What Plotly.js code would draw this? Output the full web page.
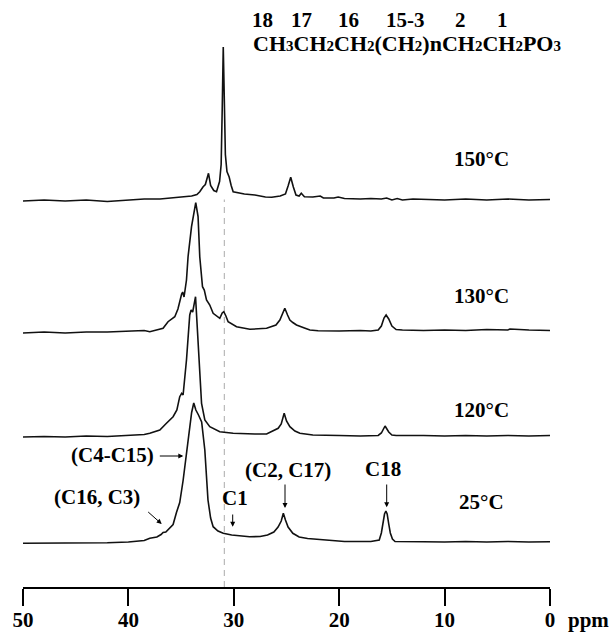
<!DOCTYPE html>
<html><head><meta charset="utf-8">
<script src="https://cdn.plot.ly/plotly-3.0.1.min.js"></script>
<style>html,body{margin:0;padding:0;background:#fff}#chart{width:610px;height:633px}</style>
</head><body><div id="chart"></div>
<script>
// ---- data (chemical shift in ppm, intensity above each spectrum's baseline) ----
const ppm150 = [50,48,46,44,42,40,38.5,37,35.5,34.5,34,33.5,33.23,32.91,32.7,32.4,32.2,31.9,31.64,31.35,31.2,31.1,31.0,30.9,30.8,30.65,30.44,30.25,30.06,29.0,28.0,27.0,26.4,25.6,25.1,24.85,24.6,24.35,24.1,23.8,23.6,23.3,22.5,21.8,21.5,20.5,20.1,19.5,18,17,16,15.5,15,14.5,14,13,12,10,8,6,4,2,0];
const int150 = [-1.5,-0.5,-1.5,-0.5,-2,-0.5,0.5,0.5,2,2.5,3.5,5,7.8,12.8,15,26.2,14,9,7.8,18,35,90,152.5,100,45,28,22.5,14,7.8,5.5,4.5,2.5,2.2,3.5,5.5,13.5,22.2,12.5,4.5,3.5,6.2,2.8,2.5,3.5,1.5,1.5,2.5,1,0.5,1,0.5,1.5,-0.5,1,-0.5,0.5,0,-0.5,0.5,-0.5,0.5,-0.5,0];

const ppm130 = [50,48,46,44,42,40,38.5,37.97,37.3,36.71,36.24,35.6,35.3,35.13,34.95,34.85,34.72,34.49,34.34,34.01,33.8,33.61,33.39,33.23,32.97,32.8,32.59,32.28,31.96,31.33,31.1,30.95,30.75,30.54,29.74,28.48,26.89,26.0,25.63,25.4,25.16,24.9,24.68,24.4,24.05,23.3,22.78,22,20,18,17,16.3,16.0,15.75,15.55,15.3,15.0,14.6,14,12,10,8,6,4,3.8,2,0];
const int130 = [-2,-1,-2,-1,-1,0,0.5,-0.7,1,2.7,9.3,14.3,22,30,37,39,34,51,74.3,104.3,119,128.3,114.3,74.3,44.3,41,31,26,17.7,12.7,18,19.3,15,9.3,4.3,1.7,2.7,6,11,17,22.7,16,11,8.5,6,3,1,0.3,0,0.5,0,1,5,13,16,12,5,1.5,1,0.5,1,0.5,1.5,1,2,1,0.5];

const ppm120 = [50,48,46,44,42,40,38.5,37.97,37.02,36.39,35.76,35.4,35.13,34.95,34.81,34.49,34.18,34.05,33.9,33.63,33.39,33.06,32.75,32.28,31.33,30.06,28,26.89,25.79,25.5,25.22,25.0,24.68,24.2,23.73,22.5,20,18,16.3,16.0,15.65,15.3,15.0,14.6,12,10,8,6,4,2,0];
const int120 = [-1,-0.5,-1,0,-0.5,0.5,1.5,2.7,6,12.7,19.3,26,39.3,42.7,41,76,121,126,124,139.3,89.3,32.7,16,9.3,4.3,2.7,2,2,7.7,12,22.7,15,9.3,5,2.7,1,0.5,0,0.5,3,10,4,1,0.5,0.5,0,0.5,0,0.5,0,0.5];

const ppm25 = [50,47,45,42,40,38.5,37.97,37.3,36.9,36.71,36.45,36.1,35.76,35.44,35.13,34.81,34.49,34.2,34.0,33.8,33.6,33.35,33.05,32.75,32.45,32.2,31.96,31.5,31.0,30.2,29.5,28.5,27.5,26.8,26.2,25.8,25.5,25.3,25.1,24.85,24.4,23.8,23,22.1,21,19.5,17,16.2,16.0,15.85,15.7,15.57,15.45,15.3,15.15,14.95,14.7,12,10,8,6,4,2,0];
const int25 = [-0.8,-0.5,-0.8,-0.3,0.5,2,4.2,5.5,8,10,10.5,14,18,30,40,62,88,115,130,139.5,132.5,127.5,120.5,92.5,42.5,24.5,15.8,11.5,9.2,7.5,6.5,5.8,6,7.5,10.5,15.5,21.5,29.2,22.5,15.5,9.2,5.5,4,3.2,2,1,1,2.5,9.5,18.5,28.5,31.5,28.5,18.5,9.5,3.5,1,0.8,0.5,1,0.5,1,0.5,0.8];

const temps = ['150°C','130°C','120°C','25°C'];
const offsets = [387.5, 256, 151, 44.5];   // vertical stacking offsets
const tickVals = [50,40,30,20,10,0];
const tickLabels = ['50','40','30','20','10','0'];
const refShift = 30.9;                      // dashed reference line (ppm)
const carbonNumbers = ['18','17','16','15-3','2','1'];

// ---- geometry helpers (pixel -> paper) ----
const L = 23, R = 60, T = 40, B = 46, PW = 610 - L - R, PH = 633 - T - B;
const pxX = px => (px - L) / PW;
const pyY = py => (633 - B - py) / PH;

const spectra = [[ppm150,int150],[ppm130,int130],[ppm120,int120],[ppm25,int25]];
const traces = spectra.map((s,i) => ({
  x: s[0], y: s[1].map(v => v + offsets[i]),
  type: 'scatter', mode: 'lines', name: temps[i],
  line: {color: '#111', width: 1.6}, hoverinfo: 'skip', showlegend: false
}));

const F = {family: '"Liberation Serif", "Times New Roman", serif', size: 21, color: '#000', weight: 'bold'};
function txt(text, px, py, opts) {
  return Object.assign({text: text, x: pxX(px), y: pyY(py), xref: 'paper', yref: 'paper',
    showarrow: false, xanchor: 'center', yanchor: 'middle', font: F}, opts || {});
}
function arrow(hx, hy, tx, ty) {
  return {text: '', x: pxX(hx), y: pyY(hy), xref: 'paper', yref: 'paper', showarrow: true,
    ax: tx - hx, ay: ty - hy, arrowhead: 2, arrowsize: 1, arrowwidth: 1, arrowcolor: '#000', standoff: 0, startstandoff: 0};
}
const s = t => '<span style="font-size:15px">' + t + '</span>';

const numX = [262.7, 301.7, 348.3, 405, 460, 502.7];
const annotations = [
  txt(temps[0], 481.7, 159.3), txt(temps[1], 481.7, 295.7), txt(temps[2], 481.7, 410), txt(temps[3], 481.5, 501.7),
  txt('C18', 383.3, 469.3), txt('(C2, C17)', 288.3, 470), txt('C1', 235, 498.3),
  txt('(C4-C15)', 112.7, 455), txt('(C16, C3)', 96.7, 496.7),
  ...carbonNumbers.map((n,i) => txt(n, numX[i], 21.7, {yanchor: 'bottom', y: pyY(32.5), borderpad: 0})),
  txt('CH'+s('3')+'CH'+s('2')+'CH'+s('2')+'(CH'+s('2')+')nCH'+s('2')+'CH'+s('2')+'PO'+s('3'), 251.7, 42.7,
      {xanchor: 'left', yanchor: 'top', y: pyY(30.5), borderpad: 0, font: Object.assign({}, F, {size: 22})}),
  txt('ppm', 588.5, 620),
  arrow(183.3, 456, 158.3, 456),
  arrow(161.7, 524, 146.7, 510.7),
  arrow(232.7, 526.7, 232.7, 513),
  arrow(285, 508, 285, 483),
  arrow(386.7, 507.3, 386.7, 483)
];

const layout = {
  width: 610, height: 633, margin: {l: L, r: R, t: T, b: B},
  paper_bgcolor: '#fff', plot_bgcolor: '#fff', showlegend: false,
  xaxis: {range: [50, 0], showgrid: false, zeroline: false, showline: true, linecolor: '#000', linewidth: 2,
    ticks: 'outside', ticklen: 17, tickwidth: 2, tickcolor: '#000', ticklabelstandoff: -4,
    tickvals: tickVals, ticktext: tickLabels, tickfont: F, fixedrange: true},
  yaxis: {range: [0, 547], visible: false, showgrid: false, zeroline: false, fixedrange: true},
  shapes: [{type: 'line', xref: 'x', yref: 'y', x0: refShift, x1: refShift, y0: 0, y1: offsets[0],
    line: {color: '#aaa', width: 1, dash: '6px,5px'}, layer: 'below'}],
  annotations: annotations
};

Plotly.newPlot('chart', traces, layout, {staticPlot: true, displayModeBar: false});
</script></body></html>
